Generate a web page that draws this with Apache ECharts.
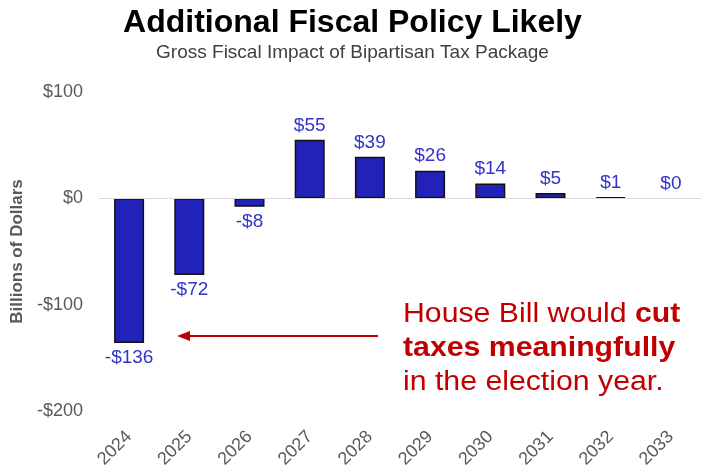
<!DOCTYPE html>
<html>
<head>
<meta charset="utf-8">
<script src="https://cdn.jsdelivr.net/npm/echarts@6/dist/echarts.min.js"></script>
<style>
  html, body { margin: 0; padding: 0; background: #fff; }
  #chart { width: 705px; height: 468px; }
</style>
</head>
<body>
<div id="chart"></div>
<script>
var years = ['2024', '2025', '2026', '2027', '2028', '2029', '2030', '2031', '2032', '2033'];
var impact = [-136, -72, -8, 55, 39, 26, 14, 5, 1, 0];
var yTicks = [-200, -100, 0, 100];

var FONT = '"Liberation Sans", Arial, sans-serif';
var RED = '#c00000';

function money(v) {
    return v < 0 ? '-$' + Math.abs(v) : '$' + v;
}

// negative bars get their label under the bar, empty bars get no outline
var barData = impact.map(function (v) {
    return {
        value: v,
        label: { position: v < 0 ? 'bottom' : 'top' },
        itemStyle: { borderWidth: v === 0 ? 0 : 1.5 }
    };
});

var myChart = echarts.init(document.getElementById('chart'), null, { renderer: 'canvas' });

var option = {
    backgroundColor: '#ffffff',
    animation: false,
    title: {
        text: 'Additional Fiscal Policy Likely',
        subtext: 'Gross Fiscal Impact of Bipartisan Tax Package',
        left: 'center',
        top: 2,
        itemGap: 4,
        textStyle: { fontFamily: FONT, fontSize: 32, fontWeight: 'bold', color: '#000' },
        subtextStyle: { fontFamily: FONT, fontSize: 19, color: '#404040' }
    },
    grid: { left: 99, right: 4, top: 92, bottom: 57, containLabel: false, outerBoundsMode: 'none' },
    xAxis: {
        type: 'category',
        data: years,
        axisLine: { show: false },
        axisTick: { show: false },
        axisLabel: {
            rotate: 45,
            margin: 23,
            fontFamily: FONT,
            fontSize: 18,
            color: '#595959'
        }
    },
    yAxis: {
        type: 'value',
        min: yTicks[0],
        max: yTicks[yTicks.length - 1],
        interval: 100,
        name: 'Billions of Dollars',
        nameLocation: 'middle',
        nameGap: 69,
        nameTextStyle: { fontFamily: FONT, fontSize: 17, fontWeight: 'bold', color: '#595959' },
        axisLine: { show: false },
        axisTick: { show: false },
        splitLine: { show: false },
        axisLabel: {
            margin: 16,
            fontFamily: FONT,
            fontSize: 18,
            color: '#595959',
            formatter: money
        }
    },
    series: [{
        type: 'bar',
        data: barData,
        barWidth: 30,
        itemStyle: { color: '#2222bb', borderColor: '#111', borderWidth: 1.5 },
        label: {
            show: true,
            distance: 5,
            fontFamily: FONT,
            fontSize: 19,
            color: '#3333cc',
            formatter: function (p) { return money(p.value); }
        },
        markLine: {
            silent: true,
            symbol: 'none',
            label: { show: false },
            lineStyle: { color: '#d9d9d9', type: 'solid', width: 1 },
            data: [{ yAxis: 0 }]
        },
        z: 3
    }],
    graphic: [
        {
            type: 'line',
            shape: { x1: 378, y1: 336, x2: 186, y2: 336 },
            style: { stroke: RED, lineWidth: 2 }
        },
        {
            type: 'polygon',
            shape: { points: [[177, 336], [190, 331], [190, 341]] },
            style: { fill: RED }
        },
        {
            type: 'text',
            x: 403,
            y: 298,
            scaleX: 1.12,
            style: {
                text: '{n|House Bill would }{b|cut}\n{b|taxes meaningfully}\n{n|in the election year.}',
                verticalAlign: 'top',
                rich: {
                    n: { fontFamily: FONT, fontSize: 27, fill: RED, lineHeight: 34 },
                    b: { fontFamily: FONT, fontSize: 27, fontWeight: 'bold', fill: RED, lineHeight: 34 }
                }
            }
        }
    ]
};

myChart.setOption(option);
</script>
</body>
</html>
